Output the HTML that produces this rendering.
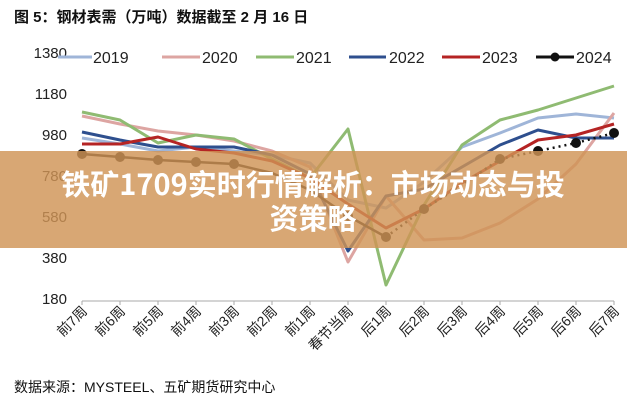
<!DOCTYPE html>
<html><head><meta charset="utf-8"><style>
body{margin:0;background:#fff;width:627px;height:400px;overflow:hidden;font-family:"Liberation Sans","Noto Sans CJK SC",sans-serif;}
</style></head><body>
<svg width="627" height="400" xmlns="http://www.w3.org/2000/svg" font-family="Liberation Sans, Noto Sans CJK SC, sans-serif">
<rect width="627" height="400" fill="#fff"/>
<text x="14" y="22" font-size="15" font-weight="bold" fill="#111">图 5：钢材表需（万吨）数据截至 2 月 16 日</text>
<g font-size="15" fill="#222" text-anchor="end">
<text x="67" y="58">1380</text><text x="67" y="99">1180</text><text x="67" y="140">980</text>
<text x="67" y="181">780</text><text x="67" y="222">580</text><text x="67" y="263">380</text><text x="67" y="304">180</text>
</g>
<line x1="82" y1="301" x2="614" y2="301" stroke="#aaa" stroke-width="1"/>
<g stroke="#aaa"><path d="M82 301v4M120 301v4M158 301v4M196 301v4M234 301v4M272 301v4M310 301v4M348 301v4M386 301v4M424 301v4M462 301v4M500 301v4M538 301v4M576 301v4M614 301v4"/></g>
<g font-size="14" fill="#222" text-anchor="end">
<text transform="translate(88,312) rotate(-45)">前7周</text><text transform="translate(126,312) rotate(-45)">前6周</text>
<text transform="translate(164,312) rotate(-45)">前5周</text><text transform="translate(202,312) rotate(-45)">前4周</text>
<text transform="translate(240,312) rotate(-45)">前3周</text><text transform="translate(278,312) rotate(-45)">前2周</text>
<text transform="translate(316,312) rotate(-45)">前1周</text><text transform="translate(354,312) rotate(-45)">春节当周</text>
<text transform="translate(392,312) rotate(-45)">后1周</text><text transform="translate(430,312) rotate(-45)">后2周</text>
<text transform="translate(468,312) rotate(-45)">后3周</text><text transform="translate(506,312) rotate(-45)">后4周</text>
<text transform="translate(544,312) rotate(-45)">后5周</text><text transform="translate(582,312) rotate(-45)">后6周</text>
<text transform="translate(620,312) rotate(-45)">后7周</text>
</g>
<g fill="none" stroke-width="3" stroke-linejoin="round">
<polyline stroke="#9fb5d8" points="82,138 120,144 158,151 196,147 234,151 272,155 310,163 348,200 386,208 424,182 462,147 500,133 538,118 576,114 614,118"/>
<polyline stroke="#dda5a2" points="82,116 120,124 158,131 196,135 234,141 272,151 310,167 348,262 386,196 424,240 462,238 500,223 538,199 576,164 614,113"/>
<polyline stroke="#8fbb72" points="82,112 120,120 158,143 196,135 234,139 272,159 310,178 348,129 386,285 424,205 462,145 500,120 538,110 576,98 614,86"/>
<polyline stroke="#2e4f8e" points="82,132 120,140 158,147 196,147 234,147 272,155 310,174 348,251 386,196 424,189 462,167 500,145 538,130 576,138 614,138"/>
<polyline stroke="#b52424" points="82,144 120,144 158,137 196,149 234,153 272,161 310,178 348,204 386,228 424,209 462,183 500,161 538,140 576,135 614,124"/>
<polyline stroke="#111" stroke-width="2.5" points="82,154 120,157 158,160 196,162 234,164 272,173 310,190 348,216 386,237"/>
<polyline stroke="#111" stroke-width="2.5" stroke-dasharray="2 4" points="386,237 424,209 462,185 500,159 538,151 576,143 614,133"/>
</g>
<g fill="#111"><circle cx="82" cy="154" r="5"/><circle cx="120" cy="157" r="5"/><circle cx="158" cy="160" r="5"/><circle cx="196" cy="162" r="5"/><circle cx="234" cy="164" r="5"/><circle cx="348" cy="216" r="5"/><circle cx="386" cy="237" r="5"/><circle cx="424" cy="209" r="5"/><circle cx="500" cy="159" r="5"/><circle cx="538" cy="151" r="5"/><circle cx="576" cy="143" r="5"/><circle cx="614" cy="133" r="5"/></g>
<g stroke-width="3" font-size="16" fill="#222">
<line x1="58" y1="57" x2="92" y2="57" stroke="#9fb5d8"/><text x="93" y="63">2019</text>
<line x1="162" y1="57" x2="200" y2="57" stroke="#dda5a2"/><text x="202" y="63">2020</text>
<line x1="256" y1="57" x2="294" y2="57" stroke="#8fbb72"/><text x="296" y="63">2021</text>
<line x1="349" y1="57" x2="386" y2="57" stroke="#2e4f8e"/><text x="389" y="63">2022</text>
<line x1="442" y1="57" x2="480" y2="57" stroke="#b52424"/><text x="482" y="63">2023</text>
<line x1="536" y1="57" x2="574" y2="57" stroke="#111"/><circle cx="555" cy="57" r="4.5" fill="#111"/><text x="576" y="63">2024</text>
</g>
<rect x="0" y="151" width="627" height="97" fill="rgb(208,148,85)" fill-opacity="0.82"/>
<g font-size="29" font-weight="bold" fill="#fff" text-anchor="middle" font-family="Noto Sans CJK SC, sans-serif">
<text x="313" y="195">铁矿1709实时行情解析：市场动态与投</text>
<text x="313" y="229">资策略</text>
</g>
<text x="14" y="392" font-size="14" fill="#111">数据来源：MYSTEEL、五矿期货研究中心</text>
</svg>
</body></html>
